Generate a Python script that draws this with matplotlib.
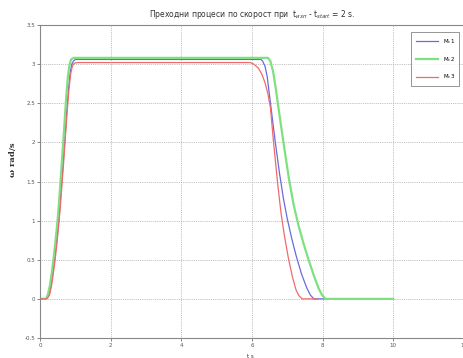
import numpy as np
import matplotlib
matplotlib.use('Agg')
import matplotlib.pyplot as plt

# speed curves (t in s, omega in rad/s)
t1 = [0, 0.18, 0.25, 0.3, 0.35, 0.4, 0.45, 0.5, 0.55, 0.6, 0.65, 0.7, 0.75, 0.8, 0.85, 0.9, 0.95, 1.0,
      6.25, 6.3, 6.37, 6.43, 6.49, 6.55, 6.66, 6.78, 6.89, 7.0, 7.12, 7.25, 7.4, 7.55, 7.65, 7.75, 8.15]
w1 = [0, 0, 0.05, 0.15, 0.3, 0.45, 0.65, 0.85, 1.1, 1.4, 1.7, 2.0, 2.35, 2.65, 2.88, 3.0, 3.04, 3.06,
      3.06, 3.04, 2.97, 2.84, 2.62, 2.4, 2.0, 1.6, 1.28, 1.02, 0.78, 0.55, 0.32, 0.14, 0.05, 0, 0]

t2 = [0, 0.17, 0.22, 0.28, 0.33, 0.38, 0.43, 0.48, 0.53, 0.58, 0.63, 0.68, 0.73, 0.78, 0.83, 0.88, 0.95,
      6.45, 6.52, 6.6, 6.67, 6.73, 6.89, 7.04, 7.18, 7.31, 7.45, 7.6, 7.75, 7.88, 7.98, 8.08, 10.0]
w2 = [0, 0, 0.05, 0.17, 0.32, 0.5, 0.7, 0.92, 1.18, 1.5, 1.82, 2.15, 2.5, 2.8, 2.98, 3.06, 3.08,
      3.08, 3.04, 2.9, 2.7, 2.5, 2.0, 1.55, 1.2, 0.95, 0.72, 0.5, 0.3, 0.14, 0.05, 0, 0]

t3 = [0, 0.2, 0.27, 0.32, 0.37, 0.42, 0.47, 0.52, 0.57, 0.62, 0.67, 0.72, 0.77, 0.82, 0.87, 0.92, 0.97, 1.05,
      5.95, 6.05, 6.18, 6.28, 6.37, 6.45, 6.52, 6.61, 6.72, 6.82, 6.92, 7.03, 7.15, 7.25, 7.33, 7.42, 7.85]
w3 = [0, 0, 0.05, 0.15, 0.3, 0.47, 0.67, 0.9, 1.15, 1.45, 1.75, 2.08, 2.4, 2.68, 2.88, 2.98, 3.01, 3.02,
      3.02, 3.0, 2.95, 2.87, 2.76, 2.62, 2.45, 2.0, 1.5, 1.1, 0.8, 0.52, 0.27, 0.11, 0.04, 0, 0]

labels = ['M$_c$1', 'M$_c$2', 'M$_c$3']
xticks = [0, 2, 4, 6, 8, 10, 12]
yticks = [-0.5, 0, 0.5, 1, 1.5, 2, 2.5, 3, 3.5]

fig = plt.figure(figsize=(4.63, 3.58), dpi=100)
ax = fig.add_axes([40/463, 20/358, 424/463, 313/358])

ax.plot(t1, w1, color='#6a6ae0', lw=0.9, label=labels[0])
ax.plot(t2, w2, color='#7fe07f', lw=1.6, label=labels[1])
ax.plot(t3, w3, color='#f06a6a', lw=0.9, label=labels[2])

ax.set_xlim(0, 12)
ax.set_ylim(-0.5, 3.5)
ax.set_xticks(xticks)
ax.set_yticks(yticks)
ax.set_yticklabels(['-0.5', '0', '0.5', '1', '1.5', '2', '2.5', '3', '3.5'])
ax.tick_params(labelsize=4, length=2, width=0.5, colors='#555555', pad=1.5)
ax.grid(True, ls=(0, (1.2, 1.5)), color='#999999', lw=0.5)
for s in ax.spines.values():
    s.set_color('#888888')
    s.set_linewidth(0.8)

ax.set_title('Преходни процеси по скорост при  t$_{изп}$ - t$_{start}$ = 2 s.',
             fontsize=5.5, color='#333333', pad=6)
ax.set_ylabel('ω rad/s', fontsize=6, family='DejaVu Serif', fontweight='bold', color='#333333')
ax.yaxis.set_label_coords(-0.055, 0.57)
ax.set_xlabel('t s', fontsize=4, color='#333333')
ax.xaxis.set_label_coords(0.496, -0.05)

leg = ax.legend(loc='upper right', bbox_to_anchor=(0.995, 0.985), fontsize=4,
                handlelength=4, fancybox=False, edgecolor='#666666',
                borderpad=0.8, labelspacing=1.6)
leg.get_frame().set_linewidth(0.6)

fig.savefig('out.png', dpi=100)
